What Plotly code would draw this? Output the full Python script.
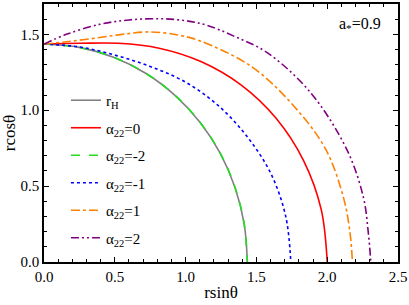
import plotly.graph_objects as go

# ---- data (r sinθ, r cosθ) ----
rh_x = [0.0, 0.249, 0.491, 0.718, 0.923, 1.100, 1.244, 1.349, 1.414, 1.436]
rh_y = [1.436, 1.414, 1.349, 1.244, 1.100, 0.923, 0.718, 0.491, 0.249, 0.0]

a0_x = [0.0, 0.254, 0.525, 0.813, 1.108, 1.391, 1.639, 1.834, 1.958, 2.000]
a0_y = [1.436, 1.441, 1.441, 1.409, 1.321, 1.167, 0.947, 0.667, 0.345, 0.0]

am2_x = [0.0, 0.249, 0.491, 0.718, 0.923, 1.100, 1.244, 1.349, 1.414, 1.436]
am2_y = [1.436, 1.414, 1.349, 1.244, 1.100, 0.923, 0.718, 0.491, 0.249, 0.0]

am1_x = [0.0, 0.250, 0.497, 0.745, 0.996, 1.229, 1.433, 1.602, 1.707, 1.743]
am1_y = [1.436, 1.417, 1.364, 1.290, 1.187, 1.032, 0.828, 0.583, 0.301, 0.0]

ap1_x = [0.0, 0.158, 0.394, 0.55, 0.748, 0.95, 1.101, 1.455, 1.738, 1.985, 2.115, 2.162, 2.178]
ap1_y = [1.436, 1.451, 1.479, 1.500, 1.516, 1.495, 1.457, 1.294, 1.055, 0.750, 0.424, 0.185, 0.0]

ap2_x = [0.0, 0.158, 0.394, 0.60, 0.818, 1.00, 1.15, 1.337, 1.573, 1.879, 2.139, 2.256, 2.291, 2.308]
ap2_y = [1.436, 1.500, 1.566, 1.595, 1.603, 1.590, 1.560, 1.490, 1.381, 1.120, 0.740, 0.424, 0.185, 0.0]

x_ticks = [0.0, 0.5, 1.0, 1.5, 2.0, 2.5]
y_ticks = [0.0, 0.5, 1.0, 1.5]

FONT = "Liberation Serif, Times New Roman, serif"

series = [
    ("r<sub>H</sub>", rh_x, rh_y, "#808080", "solid"),
    ("α<sub>22</sub>=0", a0_x, a0_y, "#ff0000", "solid"),
    ("α<sub>22</sub>=-2", am2_x, am2_y, "#22dd22", "dash"),
    ("α<sub>22</sub>=-1", am1_x, am1_y, "#0000ff", "dot"),
    ("α<sub>22</sub>=1", ap1_x, ap1_y, "#ff8000", "dashdot"),
    ("α<sub>22</sub>=2", ap2_x, ap2_y, "#800080", "8px,3px,2px,3px,2px,3px"),
]

fig = go.Figure()
for i, (name, xs, ys, col, dash) in enumerate(series):
    fig.add_trace(go.Scatter(
        x=xs, y=ys, mode="lines", name=name, legendgroup=str(i),
        line=dict(color=col, width=1.6, dash=dash, shape="spline", smoothing=1.0),
    ))

axis_common = dict(
    showgrid=False, zeroline=False, showline=True, linecolor="black", linewidth=1.5,
    mirror="ticks", ticks="inside", ticklen=5, tickwidth=1.2, tickcolor="black",
    tickfont=dict(family=FONT, size=15, color="black"),
)

fig.update_xaxes(
    range=[0, 2.5], tickvals=x_ticks, ticktext=[f"{v:.1f}" for v in x_ticks],
    title=dict(text="rsinθ", font=dict(family=FONT, size=17, color="black"), standoff=2),
    minor=dict(dtick=0.1, ticks="inside", ticklen=3, tickcolor="black", tickwidth=1),
    **axis_common,
)
fig.update_yaxes(
    range=[0, 1.7], tickvals=y_ticks, ticktext=[f"{v:.1f}" for v in y_ticks],
    title=dict(text="rcosθ", font=dict(family=FONT, size=17, color="black"), standoff=3),
    minor=dict(dtick=0.1, ticks="inside", ticklen=3, tickcolor="black", tickwidth=1),
    **axis_common,
)

fig.add_annotation(
    x=2.23, y=1.563, xref="x", yref="y", text="a<sub>*</sub>=0.9", showarrow=False,
    font=dict(family=FONT, size=16, color="black"),
)

fig.update_layout(
    width=409, height=305,
    margin=dict(l=44, r=11, t=2, b=43),
    paper_bgcolor="white", plot_bgcolor="white",
    font=dict(family=FONT, size=15, color="black"),
    showlegend=True,
    legend=dict(
        x=0.062, y=0.69, xanchor="left", yanchor="top",
        bgcolor="rgba(0,0,0,0)", borderwidth=0,
        traceorder="grouped", tracegroupgap=5,
        font=dict(family=FONT, size=15, color="black"),
    ),
)

fig.write_html(
    "out.html",
    config={"displayModeBar": False},
    post_script="document.body.style.margin='0px';document.body.style.padding='0px';",
)
